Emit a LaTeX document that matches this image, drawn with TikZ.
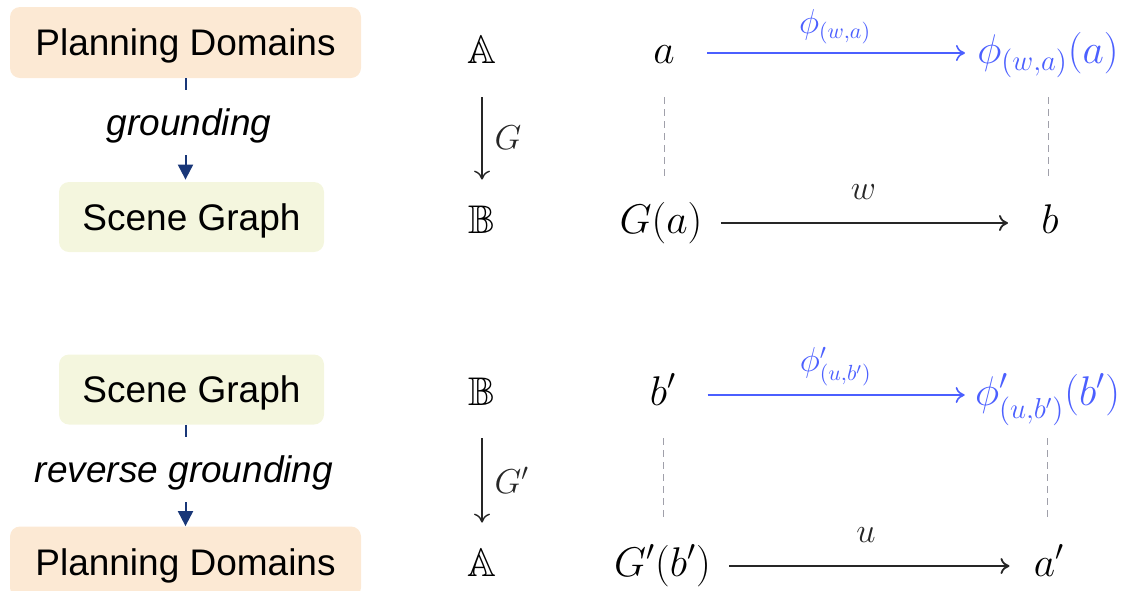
\documentclass[tikz,border=0pt]{standalone}
\usepackage[no-math]{fontspec}
\usepackage{xcolor}
\usepackage{amsmath,amssymb}
\usepackage{tikz}
\usetikzlibrary{arrows.meta, positioning, calc}
\newfontfamily\boxfont{Liberation Sans}
\definecolor{mypeach}{RGB}{252,233,212}
\definecolor{mylime}{RGB}{244,246,222}
\definecolor{mynavy}{RGB}{25,55,120}
\definecolor{myblue}{RGB}{75,95,255}
\definecolor{mygray}{RGB}{160,160,170}
\tikzset{
  peachbox/.style={rectangle, fill=mypeach, minimum width=175.5pt,
    minimum height=35.5pt, rounded corners=5pt, text height=13.3pt,
    text depth=0pt, font=\boxfont\fontsize{18.5}{22}\selectfont},
  limebox/.style={rectangle, fill=mylime, minimum width=132.5pt,
    minimum height=35pt, rounded corners=5pt, text height=13.3pt,
    text depth=0pt, font=\boxfont\fontsize{18.5}{22}\selectfont},
  steplabel/.style={inner sep=0pt, minimum height=32.5pt, text height=13.3pt,
    text depth=0pt, font=\boxfont\itshape\fontsize{18.5}{22}\selectfont},
  flowline/.style={line width=1pt, color=mynavy},
  flowarrow/.style={-{Triangle[length=7.5pt,width=7.5pt]}, line width=1pt, color=mynavy},
  setnode/.style={inner sep=0pt, text height=15.5pt, text depth=5.5pt,
    font=\fontsize{20}{24}\selectfont},
  elem/.style={inner sep=0pt, text height=15.5pt, text depth=5.5pt,
    font=\fontsize{20.7}{25}\selectfont},
  maparrow/.style={-{Computer Modern Rightarrow[length=4.5pt,width=8pt]},
    line width=0.9pt, color=black!85},
  bluearrow/.style={maparrow, color=myblue, line width=0.8pt},
  maplabel/.style={inner sep=0pt, font=\fontsize{16}{19}\selectfont},
  guide/.style={dash pattern=on 3.5pt off 2.5pt, color=mygray, line width=0.5pt}
}

\begin{document}
\begin{tikzpicture}[x=0.5pt, y=-0.5pt]
  \useasboundingbox (0,0) rectangle (1129,590);
  \clip (0,0) rectangle (1129,590);

  % Grounding
  \node[peachbox] (pd1) at (185.5,42.5) {Planning Domains};
  \node[limebox] (sg1) at (191.5,217) {Scene Graph};
  \node[steplabel] (grd) at (189,122.5) {grounding};
  \draw[flowline] (pd1.south) -- (pd1.south |- grd.north);
  \draw[flowarrow, shorten >=1pt] (pd1.south |- grd.south) -- (pd1.south |- sg1.north);

  % Reverse grounding
  \node[limebox] (sg2) at (191.5,389.5) {Scene Graph};
  \node[peachbox] (pd2) at (185.5,562) {Planning Domains};
  \node[steplabel] (rgrd) at (184,469.5) {reverse grounding};
  \draw[flowline] (pd2.north |- sg2.south) -- (pd2.north |- rgrd.north);
  \draw[flowarrow] (pd2.north |- rgrd.south) -- (pd2.north);

  % Top square
  \node[setnode] (A1) at (482,53) {$\mathbb{A}$};
  \node[setnode] (B1) at (482,223) {$\mathbb{B}$};
  \draw[maparrow, line width=0.7pt, shorten <=11.5pt, shorten >=11pt]
    (A1) -- node[right=6pt, maplabel, font=\fontsize{17}{20}\selectfont] {$G$} (B1);
  \node[elem] (a) at (664,53) {$a$};
  \node[elem, text=myblue] (phia) at (1048,53) {$\phi_{(w,a)}(a)$};
  \node[elem] (Ga) at (661,223) {$G(a)$};
  \node[elem] (b) at (1050,223) {$b$};
  \draw[bluearrow, shorten <=16pt, shorten >=6pt]
    (a) -- node[pos=0.53, above=4pt, maplabel, text=myblue] {$\phi_{(w,a)}$} (phia);
  \draw[maparrow, shorten <=9pt, shorten >=16.5pt]
    (Ga) -- node[pos=0.475, above=11.5pt, maplabel] {$w$} (b);
  \draw[guide, shorten <=11.5pt, shorten >=11pt] (a.south) -- (a.south |- Ga.north);
  \draw[guide, shorten <=11.5pt, shorten >=11pt] (phia.south) -- (phia.south |- b.north);

  % Bottom square
  \node[setnode] (B2) at (482,395) {$\mathbb{B}$};
  \node[setnode] (A2) at (482,566) {$\mathbb{A}$};
  \draw[maparrow, line width=0.7pt, shorten <=11pt, shorten >=11pt]
    (B2) -- node[right=6pt, maplabel, font=\fontsize{17}{20}\selectfont] {$G'$} (A2);
  \node[elem] (bp) at (663,395) {$b'$};
  \node[elem, text=myblue] (phib) at (1047.5,395) {$\phi'_{(u,b')}(b')$};
  \node[elem] (Gb) at (662.5,566) {$G'(b')$};
  \node[elem] (ap) at (1049,566) {$a'$};
  \draw[bluearrow, shorten <=15.5pt, shorten >=5pt]
    (bp) -- node[pos=0.534, above=4pt, maplabel, text=myblue] {$\phi'_{(u,b')}$} (phib);
  \draw[maparrow, shorten <=9pt, shorten >=12pt]
    (Gb) -- node[pos=0.48, above=11.5pt, maplabel] {$u$} (ap);
  \draw[guide, shorten <=11pt, shorten >=11.5pt] (bp.south) -- (bp.south |- Gb.north);
  \draw[guide, shorten <=11pt, shorten >=11.5pt] (phib.south) -- (phib.south |- ap.north);
\end{tikzpicture}
\end{document}
